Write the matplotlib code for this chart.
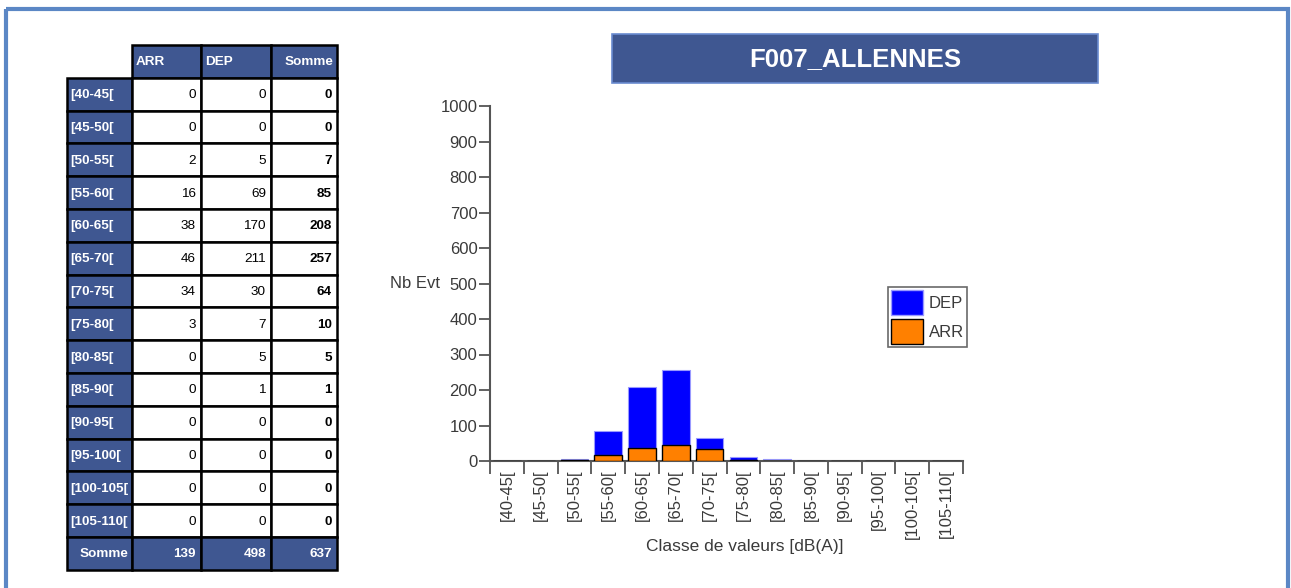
import matplotlib.pyplot as plt
from matplotlib.patches import Rectangle, Patch

plt.rcParams['font.family'] = ['Liberation Sans', 'DejaVu Sans']

classes = ['[40-45[', '[45-50[', '[50-55[', '[55-60[', '[60-65[', '[65-70[', '[70-75[',
           '[75-80[', '[80-85[', '[85-90[', '[90-95[', '[95-100[', '[100-105[', '[105-110[']
arr = [0, 0, 2, 16, 38, 46, 34, 3, 0, 0, 0, 0, 0, 0]
dep = [0, 0, 5, 69, 170, 211, 30, 7, 5, 1, 0, 0, 0, 0]
columns = ['ARR', 'DEP', 'Somme']
station = 'F007_ALLENNES'

W, H = 1291, 588
HEAD = '#3F5791'
TXT = '#3a3a3a'

fig = plt.figure(figsize=(W / 100, H / 100), dpi=100)

# overlay axes in pixel coords for frame, table and title box
bg = fig.add_axes([0, 0, 1, 1])
bg.set_xlim(0, W)
bg.set_ylim(H, 0)
bg.axis('off')

bg.add_patch(Rectangle((6, 9), 1282, 600, fill=False, ec='#5B87C5', lw=3))

# table
col_x = [67, 132, 201, 271, 337]
row_h = 32.8
top = 45
fs = 9.7
somme = [a + d for a, d in zip(arr, dep)]

def cell(x0, x1, y0, fc):
    bg.add_patch(Rectangle((x0, y0), x1 - x0, row_h, fc=fc, ec='black', lw=1.8))

# header
for j, name in enumerate(columns):
    x0, x1 = col_x[j + 1], col_x[j + 2]
    cell(x0, x1, top, HEAD)
    if name == 'Somme':
        bg.text(x1 - 4, top + row_h / 2 + 1, name, color='white', fontsize=fs,
                fontweight='bold', ha='right', va='center')
    else:
        bg.text(x0 + 4, top + row_h / 2 + 1, name, color='white', fontsize=fs,
                fontweight='bold', ha='left', va='center')

rows = [(c, a, d, s) for c, a, d, s in zip(classes, arr, dep, somme)]
rows.append(('Somme', sum(arr), sum(dep), sum(somme)))
for i, (lab, a, d, s) in enumerate(rows):
    y0 = top + row_h * (i + 1)
    yc = y0 + row_h / 2 + 1
    last = lab == 'Somme'
    cell(col_x[0], col_x[1], y0, HEAD)
    if last:
        bg.text(col_x[1] - 4, yc, lab, color='white', fontsize=fs, fontweight='bold',
                ha='right', va='center')
    else:
        bg.text(col_x[0] + 3, yc, lab, color='white', fontsize=fs, fontweight='bold',
                ha='left', va='center')
    for j, v in enumerate([a, d, s]):
        x0, x1 = col_x[j + 1], col_x[j + 2]
        cell(x0, x1, y0, HEAD if last else 'white')
        bold = last or j == 2
        bg.text(x1 - 5, yc, str(v), color='white' if last else 'black', fontsize=fs,
                fontweight='bold' if bold else 'normal', ha='right', va='center')

# title box
bg.add_patch(Rectangle((612, 34), 486, 49, fc=HEAD, ec='#6A8BD0', lw=1.2))
bg.text(855, 59, station, color='white', fontsize=18.5, fontweight='bold',
        ha='center', va='center')

# bar chart
x0p, x1p, y0p, y1p = 490, 963, 461, 106
ax = fig.add_axes([x0p / W, (H - y0p) / H, (x1p - x0p) / W, (y0p - y1p) / H])
pos = list(range(len(classes)))
ax.bar(pos, arr, width=0.82, color='#FF8000', edgecolor='black', lw=1, zorder=3)
ax.bar(pos, dep, bottom=arr, width=0.82, color='#0000FF', edgecolor='#9999FF', lw=0.8, zorder=2)
ax.set_xlim(-0.5, len(classes) - 0.5)
ax.set_ylim(0, 1000)
ax.set_yticks(range(0, 1001, 100))
ax.set_xticks(pos)
ax.set_xticklabels(classes, rotation=90, fontsize=12, color=TXT)
ax.set_xticks([p - 0.5 for p in pos] + [len(classes) - 0.5], minor=True)
ax.tick_params(axis='x', which='major', length=0, pad=6)
ax.tick_params(axis='x', which='minor', length=9, width=1.3, color='#555555', direction='out')
ax.tick_params(axis='y', length=8, width=1.3, color='#555555', labelsize=12,
               labelcolor=TXT, pad=1)
for s in ['top', 'right']:
    ax.spines[s].set_visible(False)
for s in ['left', 'bottom']:
    ax.spines[s].set_color('#555555')
    ax.spines[s].set_linewidth(1.5)
ax.set_xlabel('Classe de valeurs [dB(A)]', fontsize=12.5, color=TXT)
ax.xaxis.set_label_coords((745 - x0p) / (x1p - x0p), -0.22)
ax.set_ylabel('Nb Evt', fontsize=12, color=TXT, rotation=0, ha='right', va='center')
ax.yaxis.set_label_coords(-0.105, 0.5)

handles = [Patch(fc='#0000FF', ec='#9999FF', label='DEP'),
           Patch(fc='#FF8000', ec='black', label='ARR')]
leg = fig.legend(handles=handles, loc='upper left', bbox_to_anchor=(888 / W, 1 - 287 / H),
                 fontsize=12, frameon=True, fancybox=False, handlelength=1.9, handleheight=1.9,
                 borderpad=0.2, labelspacing=0.25, handletextpad=0.35, borderaxespad=0)
leg.get_frame().set_edgecolor('#444444')
leg.get_frame().set_linewidth(1.2)
for t in leg.get_texts():
    t.set_color(TXT)

fig.savefig('out.png', dpi=100)
